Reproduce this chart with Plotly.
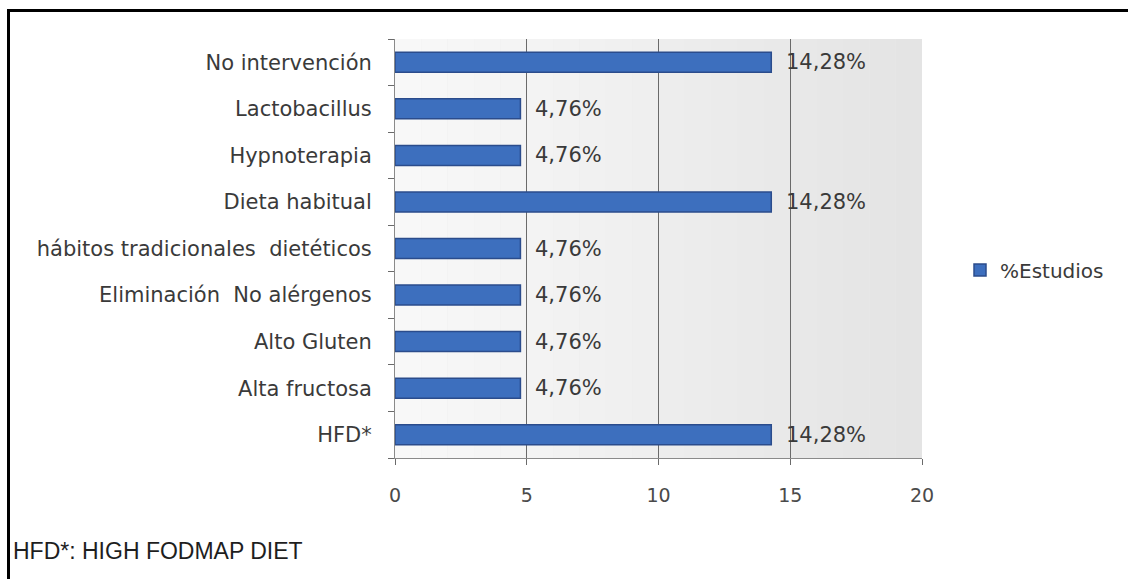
import plotly.graph_objects as go

# Categories listed bottom-to-top as they appear on the y axis
categorias = [
    "HFD*",
    "Alta fructosa",
    "Alto Gluten",
    "Eliminación  No alérgenos",
    "hábitos tradicionales  dietéticos",
    "Dieta habitual",
    "Hypnoterapia",
    "Lactobacillus",
    "No intervención",
]
porcentajes = [14.28, 4.76, 4.76, 4.76, 4.76, 14.28, 4.76, 4.76, 14.28]
ticks_x = [0, 5, 10, 15, 20]

# Plot-area geometry in pixels (used only to place decoration in paper units)
FIG_W, FIG_H = 1128, 579
L, R, T, B = 395, 206, 39, 121
PW, PH = FIG_W - L - R, FIG_H - T - B


def px_x(px):
    return (px - L) / PW


def px_y(py):
    return (FIG_H - B - py) / PH


etiquetas = [f"{v:.2f}".replace(".", ",") + "%" for v in porcentajes]

fig = go.Figure()
fig.add_trace(
    go.Bar(
        x=porcentajes,
        y=categorias,
        orientation="h",
        name="%Estudios",
        width=0.43,
        marker=dict(color="#3d6fbe", line=dict(color="#2b4c8c", width=1.5)),
        showlegend=True,
    )
)

# Value labels next to each bar
for cat, val, lab in zip(categorias, porcentajes, etiquetas):
    fig.add_annotation(
        x=val, y=cat, text=lab, showarrow=False,
        xanchor="left", yanchor="middle", xshift=13,
        font=dict(family="DejaVu Sans", size=21, color="#3a3a3a"),
    )

# Soft horizontal gradient behind the plotting area
n_strips = 20
c0, c1 = (248, 248, 248), (228, 228, 228)
shapes = []
for i in range(n_strips):
    t = i / (n_strips - 1)
    col = tuple(round(a + (b - a) * t) for a, b in zip(c0, c1))
    shapes.append(dict(
        type="rect", xref="paper", yref="paper",
        x0=i / n_strips, x1=(i + 1) / n_strips, y0=0, y1=1,
        fillcolor="rgb(%d,%d,%d)" % col, line=dict(width=0), layer="below",
    ))

# Frame lines at the top and left of the figure
shapes.append(dict(type="line", xref="paper", yref="paper",
                   x0=px_x(8), x1=px_x(FIG_W + 5), y0=px_y(10.5), y1=px_y(10.5),
                   line=dict(color="#000000", width=3)))
shapes.append(dict(type="line", xref="paper", yref="paper",
                   x0=px_x(8.5), x1=px_x(8.5), y0=px_y(9), y1=px_y(FIG_H + 5),
                   line=dict(color="#000000", width=3)))

fig.add_annotation(
    xref="paper", yref="paper", x=px_x(11), y=px_y(551),
    text="HFD*: HIGH FODMAP DIET", showarrow=False,
    xanchor="left", yanchor="middle",
    font=dict(family="Liberation Sans", size=23, color="#1e1e1e"),
)

fig.update_layout(
    width=FIG_W, height=FIG_H,
    margin=dict(l=L, r=R, t=T, b=B, pad=0),
    paper_bgcolor="white",
    plot_bgcolor="#ececec",
    shapes=shapes,
    font=dict(family="DejaVu Sans", size=20, color="#3a3a3a"),
    legend=dict(
        x=px_x(960), y=px_y(270), xanchor="left", yanchor="middle",
        font=dict(family="DejaVu Sans", size=20, color="#3a3a3a"),
        bgcolor="rgba(0,0,0,0)", itemwidth=30,
    ),
    bargap=0.57,
)

fig.update_xaxes(
    range=[0, 20], tickvals=ticks_x, ticktext=[str(v) for v in ticks_x],
    showgrid=True, gridcolor="#6a6a6a", gridwidth=1,
    showline=True, linecolor="#8a8a8a", linewidth=1,
    ticks="outside", ticklen=6, tickcolor="#6a6a6a",
    ticklabelstandoff=14, zeroline=False,
    tickfont=dict(family="DejaVu Sans", size=19, color="#4a4a4a"),
)
fig.update_yaxes(
    type="category", categoryorder="array", categoryarray=categorias,
    showgrid=False, showline=True, linecolor="#8a8a8a", linewidth=1,
    ticks="outside", ticklen=6, tickcolor="#6a6a6a", tickson="boundaries",
    ticklabelstandoff=18,
    tickfont=dict(family="DejaVu Sans", size=21, color="#3a3a3a"),
)

fig.write_html("out.html")
